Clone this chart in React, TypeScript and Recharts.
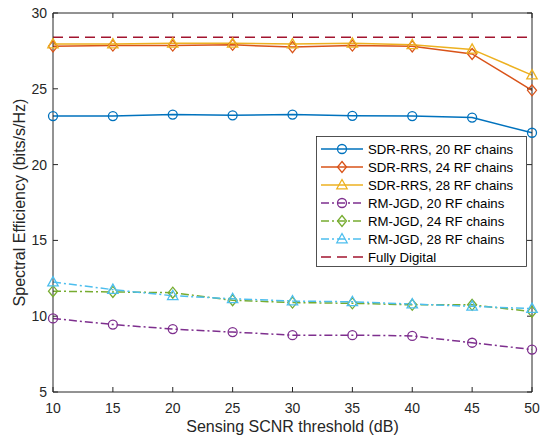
import { LineChart, Line, XAxis, YAxis } from "recharts";

// SCNR thresholds (dB)
const thresholds = [10, 15, 20, 25, 30, 35, 40, 45, 50];

// spectral efficiency values (bits/s/Hz)
const sdrRrs20 = [23.2, 23.2, 23.3, 23.25, 23.3, 23.22, 23.2, 23.1, 22.1];
const sdrRrs24 = [27.8, 27.85, 27.85, 27.9, 27.75, 27.85, 27.8, 27.3, 24.9];
const sdrRrs28 = [27.95, 27.95, 28.0, 28.0, 27.95, 28.0, 27.9, 27.6, 25.9];
const rmJgd20 = [9.85, 9.45, 9.15, 8.95, 8.75, 8.75, 8.7, 8.25, 7.8];
const rmJgd24 = [11.65, 11.6, 11.55, 11.05, 10.9, 10.85, 10.75, 10.75, 10.3];
const rmJgd28 = [12.25, 11.75, 11.35, 11.15, 11.0, 10.95, 10.8, 10.65, 10.5];
const fullyDigital = [28.4, 28.4, 28.4, 28.4, 28.4, 28.4, 28.4, 28.4, 28.4];

const xTicks = [10, 15, 20, 25, 30, 35, 40, 45, 50];
const yTicks = [5, 10, 15, 20, 25, 30];

const data = thresholds.map((t, i) => ({
    t,
    sdr20: sdrRrs20[i],
    sdr24: sdrRrs24[i],
    sdr28: sdrRrs28[i],
    rm20: rmJgd20[i],
    rm24: rmJgd24[i],
    rm28: rmJgd28[i],
    fd: fullyDigital[i],
}));

type Shape = "circle" | "diamond" | "triangle" | "none";

const series: { key: string; name: string; color: string; dash?: string; shape: Shape }[] = [
    { key: "sdr20", name: "SDR-RRS, 20 RF chains", color: "#0072BD", shape: "circle" },
    { key: "sdr24", name: "SDR-RRS, 24 RF chains", color: "#D95319", shape: "diamond" },
    { key: "sdr28", name: "SDR-RRS, 28 RF chains", color: "#EDB120", shape: "triangle" },
    { key: "rm20", name: "RM-JGD, 20 RF chains", color: "#7E2F8E", dash: "8 3 2 3", shape: "circle" },
    { key: "rm24", name: "RM-JGD, 24 RF chains", color: "#77AC30", dash: "8 3 2 3", shape: "diamond" },
    { key: "rm28", name: "RM-JGD, 28 RF chains", color: "#4DBEEE", dash: "8 3 2 3", shape: "triangle" },
    { key: "fd", name: "Fully Digital", color: "#A2142F", dash: "10 6", shape: "none" },
];

const FONT = "'Liberation Sans', Arial, Helvetica, sans-serif";
const AXIS = "#262626";

const Marker = ({ shape, cx, cy, color }: { shape: Shape; cx: number; cy: number; color: string }) => {
    if (shape === "circle") {
        return <circle cx={cx} cy={cy} r={4.5} fill="none" stroke={color} strokeWidth={1.3} />;
    }
    if (shape === "diamond") {
        return (
            <path
                d={`M${cx},${cy - 5.5}L${cx + 4.5},${cy}L${cx},${cy + 5.5}L${cx - 4.5},${cy}Z`}
                fill="none"
                stroke={color}
                strokeWidth={1.3}
            />
        );
    }
    if (shape === "triangle") {
        return (
            <path
                d={`M${cx},${cy - 5.5}L${cx + 5.2},${cy + 3.8}L${cx - 5.2},${cy + 3.8}Z`}
                fill="none"
                stroke={color}
                strokeWidth={1.3}
            />
        );
    }
    return null;
};

const LegendBox = () => (
    <svg width={212} height={132} style={{ position: "absolute", left: 316, top: 136 }}>
        <rect x={0.5} y={0.5} width={210} height={130} fill="#fff" stroke={AXIS} strokeWidth={0.8} />
        {series.map((s, i) => {
            const y = 13 + i * 18;
            return (
                <g key={s.key}>
                    <line x1={5} x2={47} y1={y} y2={y} stroke={s.color} strokeWidth={1.5} strokeDasharray={s.dash} />
                    <Marker shape={s.shape} cx={26} cy={y} color={s.color} />
                    <text x={52} y={y + 4.7} fontSize={13.2} fontFamily={FONT} fill="#000">
                        {s.name}
                    </text>
                </g>
            );
        })}
    </svg>
);

const YLabel = (props: any) => {
    const vb = props.viewBox;
    const cy = vb.y + vb.height / 2;
    return (
        <text
            x={25}
            y={cy}
            transform={`rotate(-90, 25, ${cy})`}
            textAnchor="middle"
            fontSize={16}
            fontFamily={FONT}
            fill={AXIS}
        >
            Spectral Efficiency (bits/s/Hz)
        </text>
    );
};

export default function App() {
    return (
        <div style={{ position: "absolute", left: 0, top: 0, width: 540, height: 436, background: "#fff" }}>
            <LineChart width={540} height={436} data={data} margin={{ top: 12, right: 7, left: 0, bottom: 0 }}>
                <XAxis
                    dataKey="t"
                    type="number"
                    domain={[10, 50]}
                    ticks={xTicks}
                    height={44}
                    stroke={AXIS}
                    tickSize={-5}
                    tickMargin={16}
                    tick={{ fontSize: 14, fontFamily: FONT, fill: AXIS }}
                    label={{
                        value: "Sensing SCNR threshold (dB)",
                        position: "insideBottom",
                        offset: 4,
                        fontSize: 16,
                        fontFamily: FONT,
                        fill: AXIS,
                    }}
                />
                <XAxis
                    xAxisId="top"
                    dataKey="t"
                    type="number"
                    orientation="top"
                    domain={[10, 50]}
                    ticks={xTicks}
                    height={1}
                    stroke={AXIS}
                    tickSize={-5}
                    tickFormatter={() => ""}
                />
                <YAxis
                    type="number"
                    domain={[5, 30]}
                    ticks={yTicks}
                    width={53}
                    stroke={AXIS}
                    tickSize={-5}
                    tickMargin={11}
                    tick={{ fontSize: 14, fontFamily: FONT, fill: AXIS }}
                    label={{ content: YLabel }}
                />
                <YAxis
                    yAxisId="right"
                    orientation="right"
                    type="number"
                    domain={[5, 30]}
                    ticks={yTicks}
                    width={1}
                    stroke={AXIS}
                    tickSize={-5}
                    tickFormatter={() => ""}
                />
                {/* invisible series so the top/right box axes get drawn */}
                <Line
                    xAxisId="top"
                    yAxisId="right"
                    dataKey="fd"
                    stroke="none"
                    dot={false}
                    activeDot={false}
                    legendType="none"
                    isAnimationActive={false}
                />
                {series.map((s) => (
                    <Line
                        key={s.key}
                        dataKey={s.key}
                        name={s.name}
                        stroke={s.color}
                        strokeWidth={1.5}
                        strokeDasharray={s.dash}
                        isAnimationActive={false}
                        dot={(p: any) => (
                            <Marker key={`${s.key}-${p.index}`} shape={s.shape} cx={p.cx} cy={p.cy} color={s.color} />
                        )}
                        activeDot={false}
                    />
                ))}
            </LineChart>
            <LegendBox />
        </div>
    );
}
